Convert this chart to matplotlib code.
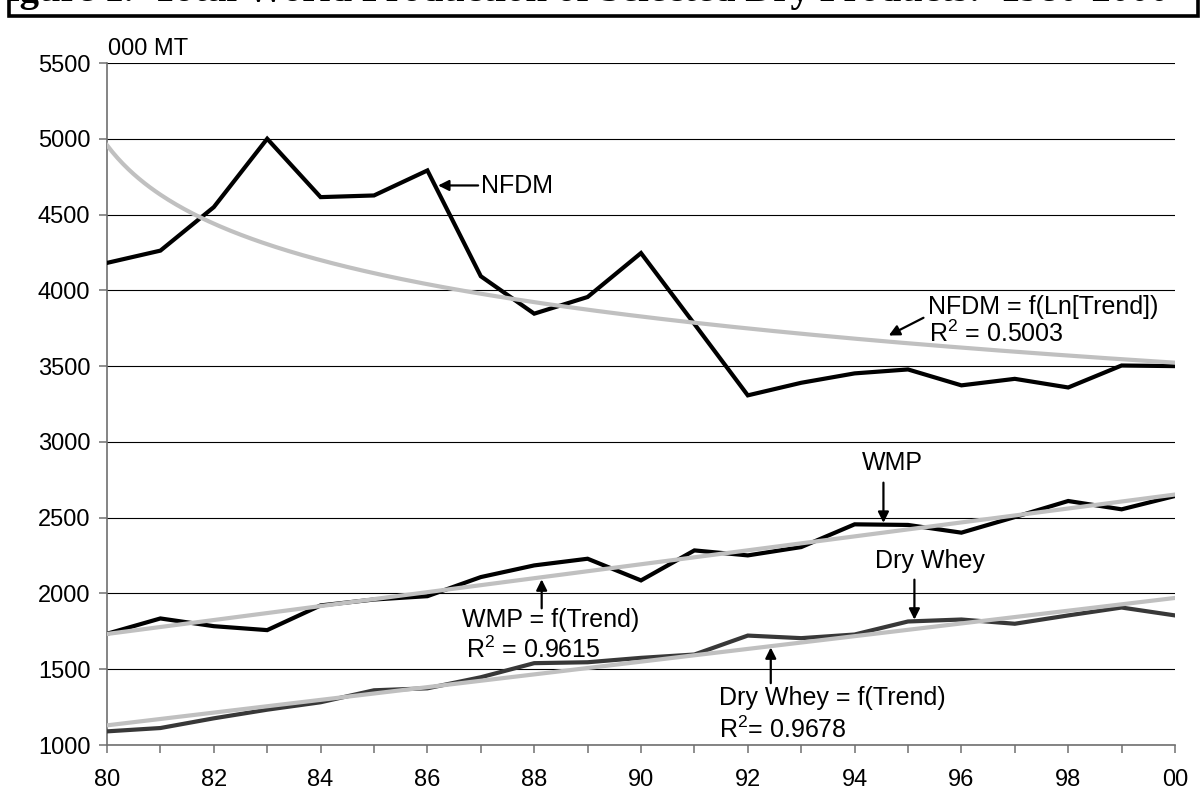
import numpy as np
import matplotlib
matplotlib.use("Agg")
import matplotlib.pyplot as plt
from matplotlib.lines import Line2D

# ---------------- data ----------------
years = list(range(1980, 2001))
nfdm = [4181, 4262, 4549, 5000, 4615, 4626, 4791, 4093, 3846, 3956, 4246,
        3778, 3307, 3390, 3452, 3478, 3373, 3416, 3359, 3504, 3500]
wmp = [1734, 1835, 1784, 1758, 1921, 1960, 1982, 2108, 2185, 2229, 2086,
       2284, 2251, 2306, 2456, 2452, 2401, 2504, 2610, 2555, 2643]
dry_whey = [1090, 1112, 1176, 1233, 1282, 1361, 1374, 1447, 1540, 1546, 1575,
            1597, 1722, 1705, 1729, 1815, 1828, 1800, 1855, 1907, 1855]
y_ticks = [1000, 1500, 2000, 2500, 3000, 3500, 4000, 4500, 5000, 5500]
x_major = list(range(1980, 2001, 2))
x_tick_labels = ["80", "82", "84", "86", "88", "90", "92", "94", "96", "98", "00"]
x_minor = list(range(1981, 2000, 2))
title = "Figure 1.  Total World Production of Selected Dry Products:  1980-2000"

# ---------------- style ----------------
plt.rcParams["font.family"] = ["Liberation Sans", "DejaVu Sans"]
plt.rcParams["mathtext.fontset"] = "custom"
plt.rcParams["mathtext.rm"] = "Liberation Sans"
plt.rcParams["mathtext.it"] = "Liberation Sans:italic"
plt.rcParams["mathtext.bf"] = "Liberation Sans:bold"

W, H = 1202, 799
fig = plt.figure(figsize=(W / 100, H / 100), dpi=100)
fig.patch.set_facecolor("white")
ax = fig.add_axes([107 / W, 1 - 745 / H, (1175 - 107) / W, (745 - 63) / H])

# ---------------- trends (fitted from data) ----------------
x = np.array(years, dtype=float)
t = np.arange(1, len(years) + 1, dtype=float)
b_n, a_n = np.polyfit(np.log(t), nfdm, 1)
t_fine = np.linspace(1, len(years), 400)
x_fine = x[0] - 1 + t_fine
nfdm_trend = a_n + b_n * np.log(t_fine)
wmp_trend = np.polyval(np.polyfit(t, wmp, 1), t)
dw_trend = np.polyval(np.polyfit(t, dry_whey, 1), t)

# ---------------- lines ----------------
ax.plot(x, nfdm, color="black", lw=3.0, solid_joinstyle="miter", zorder=3)
ax.plot(x, wmp, color="black", lw=3.0, solid_joinstyle="miter", zorder=3)
ax.plot(x, dry_whey, color="#383838", lw=3.0, solid_joinstyle="miter", zorder=3)
trend_c = "#c0c0c0"
ax.plot(x_fine, nfdm_trend, color=trend_c, lw=3.0, zorder=4)
ax.plot(x, wmp_trend, color=trend_c, lw=3.0, zorder=4)
ax.plot(x, dw_trend, color=trend_c, lw=3.0, zorder=4)

# ---------------- axes ----------------
ax.set_xlim(1980, 2000)
ax.set_ylim(1000, 5500)
ax.set_yticks(y_ticks)
ax.set_yticklabels([str(v) for v in y_ticks])
ax.set_xticks(x_major)
ax.set_xticklabels(x_tick_labels)
ax.set_xticks(x_minor, minor=True)
ax.grid(axis="y", color="black", lw=0.8, zorder=1)
ax.set_axisbelow(True)
for s in ["top", "right"]:
    ax.spines[s].set_visible(False)
for s in ["left", "bottom"]:
    ax.spines[s].set_color("#707070")
    ax.spines[s].set_linewidth(1.2)
ax.tick_params(axis="y", which="major", direction="out", length=5.5, width=1.1,
               color="#707070", labelsize=17, pad=6.5, labelcolor="black")
ax.tick_params(axis="x", which="both", direction="out", length=5.5, width=1.1,
               color="#707070", labelsize=17, pad=11.5, labelcolor="black")

# ---------------- annotations ----------------
fs = 18
arrow = dict(arrowstyle="-|>", color="black", lw=1.6, mutation_scale=16,
             shrinkA=0, shrinkB=0)

ax.text(1987.0, 4643, "NFDM", fontsize=fs, va="baseline", ha="left")
ax.annotate("", xy=(1986.2, 4692), xytext=(1986.95, 4692), arrowprops=arrow)

ax.text(1995.37, 3841, "NFDM = f(Ln[Trend])", fontsize=fs, va="baseline", ha="left")
ax.text(1995.39, 3658, r"R$^2$ = 0.5003", fontsize=fs, va="baseline", ha="left")
ax.annotate("", xy=(1994.64, 3702), xytext=(1995.29, 3819), arrowprops=arrow)

ax.text(1994.70, 2815, "WMP", fontsize=fs, va="baseline", ha="center")
ax.annotate("", xy=(1994.54, 2466), xytext=(1994.54, 2731), arrowprops=arrow)

ax.text(1986.64, 1781, "WMP = f(Trend)", fontsize=fs, va="baseline", ha="left")
ax.text(1986.72, 1572, r"R$^2$ = 0.9615", fontsize=fs, va="baseline", ha="left")
ax.annotate("", xy=(1988.14, 2093), xytext=(1988.14, 1902), arrowprops=arrow)

ax.text(1995.42, 2169, "Dry Whey", fontsize=fs, va="baseline", ha="center")
ax.annotate("", xy=(1995.12, 1827), xytext=(1995.12, 2091), arrowprops=arrow)

ax.text(1991.46, 1265, "Dry Whey = f(Trend)", fontsize=fs, va="baseline", ha="left")
ax.text(1991.46, 1044, r"R$^2$= 0.9678", fontsize=fs, va="baseline", ha="left")
ax.annotate("", xy=(1992.43, 1644), xytext=(1992.43, 1408), arrowprops=arrow)

# unit label
fig.text(108 / W, 1 - 55 / H, "000 MT", fontsize=17, va="baseline", ha="left")

# caption at the very top, cut off by the page edge as in the reference
fig.text(-15 / W, 1 - 1.3 / H, title, fontsize=28, fontweight="bold",
         family=["Liberation Serif", "DejaVu Serif"], va="baseline", ha="left")

# outer frame (bottom edge runs off the page)
px = [8.5, 8.5, 1197.5, 1197.5]
py = [-20, 16, 16, -20]
fig.add_artist(Line2D([p / W for p in px], [1 - p / H for p in py],
                      transform=fig.transFigure, color="black", lw=2.6,
                      solid_joinstyle="miter"))

fig.savefig("out.png", dpi=100)
